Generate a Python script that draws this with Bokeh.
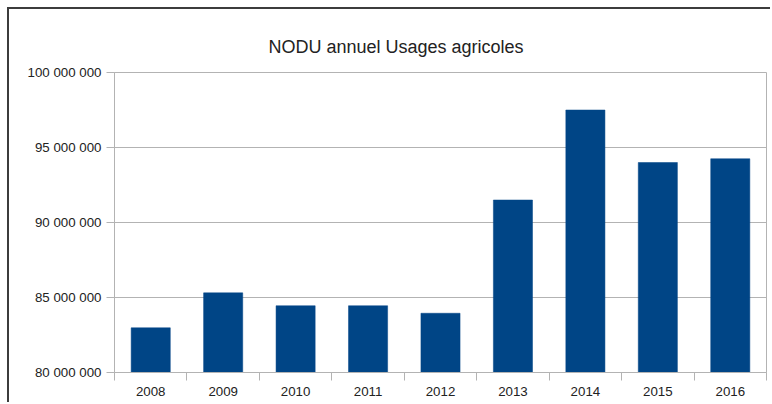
from bokeh.plotting import figure
from bokeh.models import FixedTicker, Range1d
from bokeh.embed import file_html
from bokeh.resources import INLINE

# Annual NODU (agricultural uses), by year
years = ["2008", "2009", "2010", "2011", "2012", "2013", "2014", "2015", "2016"]
nodu = [82_980_000, 85_310_000, 84_450_000, 84_450_000, 83_950_000,
        91_500_000, 97_500_000, 94_000_000, 94_250_000]

y_ticks = [80_000_000, 85_000_000, 90_000_000, 95_000_000, 100_000_000]
y_tick_labels = ["80 000 000", "85 000 000", "90 000 000", "95 000 000", "100 000 000"]
title_text = "NODU annuel Usages agricoles"

FONT = "Liberation Sans"
GRID = "#b3b3b3"
TEXT = "#222222"
BAR = "#004586"
FRAME = "#3c3c3c"

# bars sit at the centre of each unit slot; slot edges carry the tick marks
x_centers = [i + 0.5 for i in range(len(years))]
x_edges = list(range(len(years) + 1))

p = figure(width=763, height=395, output_backend="svg", toolbar_location=None,
           x_range=Range1d(0, len(years)), y_range=Range1d(y_ticks[0], y_ticks[-1]),
           min_border_left=105, min_border_right=6, min_border_top=63, min_border_bottom=32)

# outer chart frame drawn as the element's own left/top border
p.styles = {"margin-left": "7px", "margin-top": "7px",
            "border-left": f"2px solid {FRAME}", "border-top": f"2px solid {FRAME}"}

p.title.text = title_text
p.title.align = "left"
p.title.vertical_align = "top"
p.title.offset = 154
p.title.standoff = 27
p.title.text_font = FONT
p.title.text_font_size = "18px"
p.title.text_font_style = "normal"
p.title.text_color = TEXT

p.vbar(x=x_centers, top=nodu, bottom=y_ticks[0], width=0.54,
       fill_color=BAR, line_color=BAR, line_width=0.5)

# x axis: year labels centred, ticks on slot boundaries
xa = p.xaxis[0]
xa.ticker = FixedTicker(ticks=x_centers, minor_ticks=x_edges)
xa.major_label_overrides = {xc: yr for xc, yr in zip(x_centers, years)}
xa.major_tick_out = 0
xa.major_tick_in = 0
xa.minor_tick_out = 8
xa.minor_tick_in = 0
xa.minor_tick_line_color = GRID
xa.axis_line_color = GRID
xa.major_label_text_font = FONT
xa.major_label_text_font_size = "13.3px"
xa.major_label_text_color = TEXT
xa.major_label_standoff = 6

# y axis
ya = p.yaxis[0]
ya.ticker = FixedTicker(ticks=y_ticks)
ya.major_label_overrides = {t: s for t, s in zip(y_ticks, y_tick_labels)}
ya.major_tick_out = 8
ya.major_tick_in = 0
ya.minor_tick_out = 0
ya.minor_tick_in = 0
ya.major_tick_line_color = GRID
ya.axis_line_color = GRID
ya.major_label_text_font = FONT
ya.major_label_text_font_size = "13.3px"
ya.major_label_text_color = TEXT
ya.major_label_standoff = 5

p.xgrid.visible = False
p.ygrid.grid_line_color = GRID
p.outline_line_color = GRID
p.background_fill_color = "white"
p.border_fill_color = "white"

open("out.html", "w").write(file_html(p, INLINE))
